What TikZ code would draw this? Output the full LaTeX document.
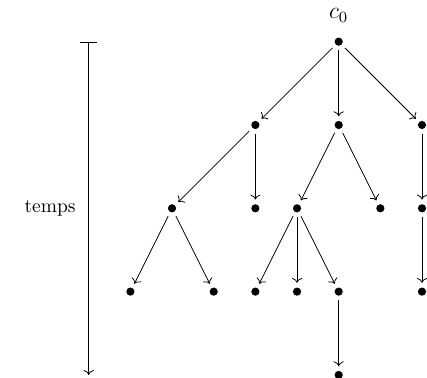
\documentclass[tikz,border=0pt]{standalone}
\usepackage{amsmath}
\usepackage{tikz}
\usetikzlibrary{arrows.meta}

\begin{document}
\begin{tikzpicture}[
    x=0.75cm, y=0.75cm,
    etat/.style={circle, fill=black, inner sep=0pt, minimum size=4.2pt,
                 outer sep=2.4pt},
    fleche/.style={->, thin},
    axe/.style={{Bar[width=8.5pt]}->, thin}
]
    \useasboundingbox (-0.13,1) rectangle (10.12,-8.07);

    % ── Axe du temps ──
    \coordinate (t0) at (2,0);
    \coordinate (t1) at (2,-8);
    \draw[axe] (t0) -- (t1);
    \node[left] (temps) at (1.85,-4) {temps};

    % ── Racine ──
    \node[etat, label={[label distance=2pt, font=\large]above:$c_0$}] (c0) at (8,0) {};

    % ── Niveau 1 ──
    \node[etat] (n1) at (6,-2) {};
    \node[etat] (n2) at (8,-2) {};
    \node[etat] (n3) at (10,-2) {};

    % ── Niveau 2 ──
    \node[etat] (n11) at (4,-4) {};
    \node[etat] (n12) at (6,-4) {};
    \node[etat] (n21) at (7,-4) {};
    \node[etat] (n22) at (9,-4) {};
    \node[etat] (n31) at (10,-4) {};

    % ── Niveau 3 ──
    \node[etat] (n111) at (3,-6) {};
    \node[etat] (n112) at (5,-6) {};
    \node[etat] (n211) at (6,-6) {};
    \node[etat] (n212) at (7,-6) {};
    \node[etat] (n213) at (8,-6) {};
    \node[etat] (n311) at (10,-6) {};

    % ── Niveau 4 ──
    \node[etat] (n2131) at (8,-8) {};

    % ── Transitions ──
    \draw[fleche] (c0) -- (n1);
    \draw[fleche] (c0) -- (n2);
    \draw[fleche] (c0) -- (n3);
    \draw[fleche] (n1) -- (n11);
    \draw[fleche] (n1) -- (n12);
    \draw[fleche] (n2) -- (n21);
    \draw[fleche] (n2) -- (n22);
    \draw[fleche] (n3) -- (n31);
    \draw[fleche] (n11) -- (n111);
    \draw[fleche] (n11) -- (n112);
    \draw[fleche] (n21) -- (n211);
    \draw[fleche] (n21) -- (n212);
    \draw[fleche] (n21) -- (n213);
    \draw[fleche] (n31) -- (n311);
    \draw[fleche] (n213) -- (n2131);

\end{tikzpicture}
\end{document}
